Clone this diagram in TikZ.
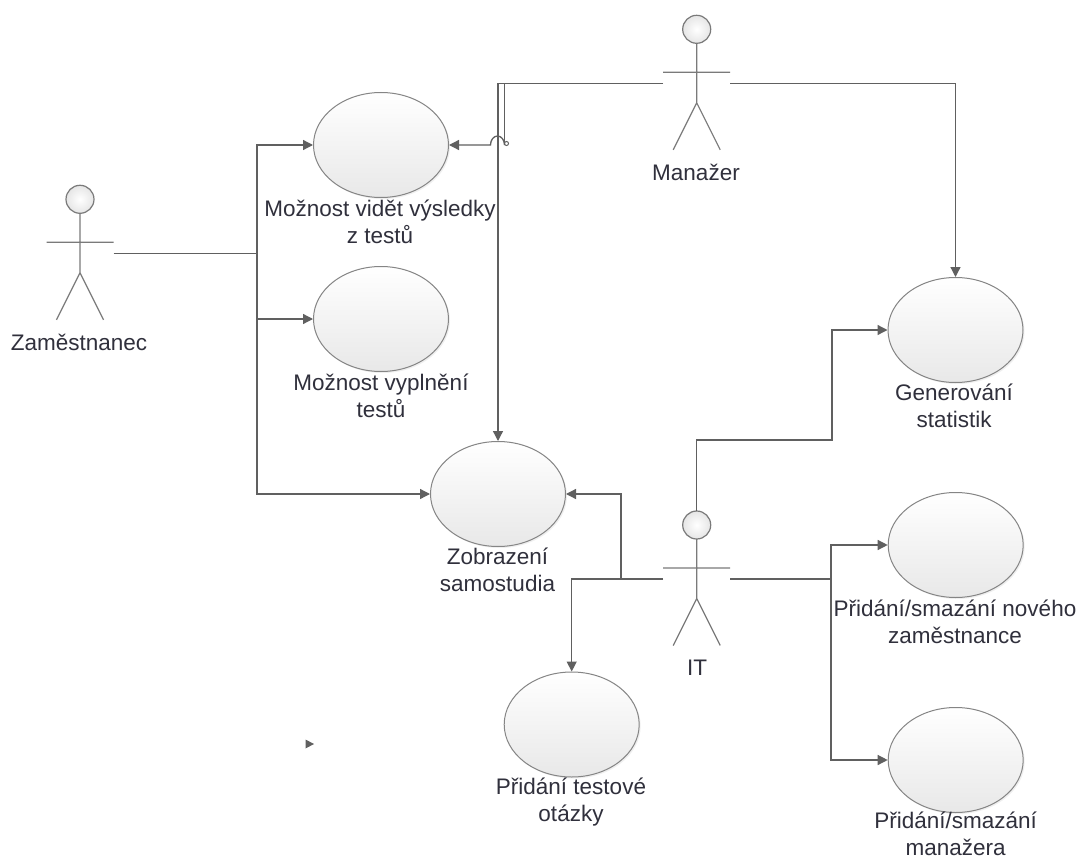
\documentclass[tikz,border=0pt]{standalone}
\usepackage{fontspec}
\setmainfont{Liberation Sans}
\usetikzlibrary{arrows.meta,shapes.geometric,shadows}
\definecolor{linec}{HTML}{606060}
\definecolor{actc}{HTML}{7A7A7A}
\definecolor{txtc}{HTML}{30303C}
\definecolor{ucborder}{HTML}{858585}
\tikzset{
  usecase/.style={ellipse, draw=ucborder, line width=1pt, top color=white, bottom color=black!9,
    minimum width=135pt, minimum height=105pt, inner sep=0pt,
    drop shadow={shadow xshift=1.5pt, shadow yshift=-1.5pt, opacity=0.12}},
  lbl/.style={text=txtc, inner sep=0pt, font=\fontsize{22.5}{27}\selectfont},
  conn/.style={draw=linec, line width=1.3pt},
  arr/.style={conn, -{Triangle[length=10pt,width=10pt]}},
  actline/.style={draw=actc, line width=1.2pt},
  actor/.pic={
    \draw[actline, inner color=white, outer color=black!10] (0,0) circle[radius=14];
    \draw[actline] (0,14) -- (0,73.5) (-33.5,43) -- (33.5,43)
      (-23.5,120.5) -- (0,73.5) -- (23.5,120.5);
    \coordinate (-left) at (-33.5,54);
    \coordinate (-right) at (33.5,54);
    \coordinate (-top) at (0,-14);
  }
}
\begin{document}
\begin{tikzpicture}[x=1pt,y=-1pt]
\fill[white] (0,0) rectangle (1077,859);
\useasboundingbox (0,0) rectangle (1077,859);

% actors
\pic (emp) at (80,199.3) {actor};
\pic (mgr) at (696.7,29.3) {actor};
\pic (itp) at (696.7,525) {actor};
\node[lbl, anchor=base] (empl) at (79,350) {Zaměstnanec};
\node[lbl, anchor=base] (mgrl) at (696,180) {Manažer};
\node[lbl, anchor=base] (itl) at (697,675) {IT};

% use cases
\node[usecase] (e1) at (381,145) {};
\node[usecase] (e2) at (381,319) {};
\node[usecase] (e3) at (498,494) {};
\node[usecase] (e4) at (955.5,330) {};
\node[usecase] (e5) at (571.7,724.5) {};
\node[usecase] (e6) at (955.7,545) {};
\node[usecase] (e7) at (955.7,760) {};

% labels (base anchor = baseline of the last line)
\node[lbl, align=center, anchor=base] (t1) at (380,243.5) {Možnost vidět výsledky\\z testů};
\node[lbl, align=center, anchor=base] (t2) at (381,417) {Možnost vyplnění\\testů};
\node[lbl, align=center, anchor=base] (t3) at (497.5,591.5) {Zobrazení\\samostudia};
\node[lbl, align=center, anchor=base] (t4) at (954,427) {Generování\\statistik};
\node[lbl, align=center, anchor=base] (t5) at (571,821.5) {Přidání testové\\otázky};
\node[lbl, align=center, anchor=base] (t6) at (955,643) {Přidání/smazání nového\\zaměstnance};
\node[lbl, align=center, anchor=base, text depth=0pt] (t7) at (955.7,855) {Přidání/smazání\\manažera};

% junction coordinates
\coordinate (ej) at (257,253.3);
\coordinate (m2) at (504.5,83.3);
\coordinate (m3) at (504.5,145);
\coordinate (ig) at (832,440);
\coordinate (il) at (621,579);
\coordinate (ir) at (831,579);

% employee connectors
\draw[conn] (emp-right) -- (ej);
\draw[arr] (ej) |- (e1.west);
\draw[arr] (ej) |- (e2.west);
\draw[arr] (ej) |- (e3.west);

% manager connectors
\draw[arr] (mgr-left) -| (e3.north);
\draw[conn] (m2) -- (m3);
\draw[arr] (m3) arc[start angle=0, end angle=-180, x radius=7, y radius=9] -- (e1.east);
\draw[conn, line width=1pt] (506.5,143.5) circle[radius=2];
\draw[arr] (mgr-right) -| (e4.north);

% IT connectors
\draw[arr] (itp-top) |- (ig) |- (e4.west);
\draw[arr] (itp-left) -| (e5.north);
\draw[arr] (il) |- (e3.east);
\draw[conn] (itp-right) -- (ir);
\draw[arr] (ir) |- (e6.west);
\draw[arr] (ir) |- (e7.west);

% stray marker
\fill[linec] (305.5,739.5) -- (314,744) -- (305.5,748.5) -- cycle;
\end{tikzpicture}
\end{document}
